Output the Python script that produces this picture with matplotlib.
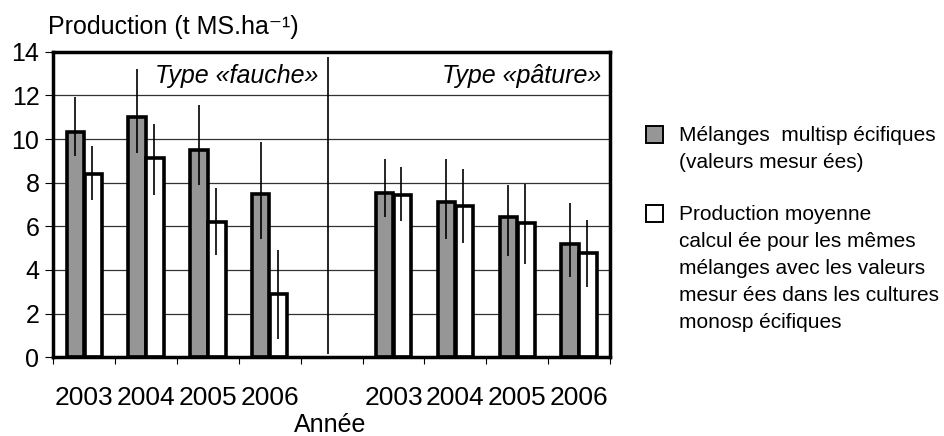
import numpy as np
import matplotlib
matplotlib.use("Agg")
import matplotlib.pyplot as plt
from matplotlib.patches import Rectangle

plt.rcParams['font.family'] = ['Liberation Sans', 'DejaVu Sans']

# values (t MS/ha), error bars given as low / high ends
years = ['2003', '2004', '2005', '2006']

fauche_mix = [10.33, 11.02, 9.49, 7.46]
fauche_mix_hi = [11.92, 13.19, 11.54, 9.86]
fauche_mix_lo = [9.22, 9.36, 7.88, 5.44]
fauche_calc = [8.42, 9.11, 6.18, 2.90]
fauche_calc_hi = [9.67, 10.71, 7.76, 4.93]
fauche_calc_lo = [7.19, 7.42, 4.69, 0.86]

pature_mix = [7.51, 7.13, 6.44, 5.18]
pature_mix_hi = [9.08, 9.08, 7.89, 7.09]
pature_mix_lo = [6.43, 5.41, 4.64, 3.69]
pature_calc = [7.43, 6.94, 6.17, 4.80]
pature_calc_hi = [8.70, 8.61, 7.96, 6.31]
pature_calc_lo = [6.25, 5.24, 4.27, 3.20]

legend_mix = ['Mélanges  multisp écifiques', '(valeurs mesur ées)']
legend_calc = ['Production moyenne', 'calcul ée pour les mêmes',
               'mélanges avec les valeurs', 'mesur ées dans les cultures',
               'monosp écifiques']

W, H = 944, 436
fig = plt.figure(figsize=(W / 100, H / 100), dpi=100)
ax = fig.add_axes([53.3 / W, 1 - 357.3 / H, (610 - 53.3) / W, (357.3 - 51.7) / H])

# category slots: 4 years "fauche", one empty slot, 4 years "pâture"
x = np.array([0, 1, 2, 3, 5, 6, 7, 8])
mix = np.array(fauche_mix + pature_mix)
mix_hi = np.array(fauche_mix_hi + pature_mix_hi)
mix_lo = np.array(fauche_mix_lo + pature_mix_lo)
calc = np.array(fauche_calc + pature_calc)
calc_hi = np.array(fauche_calc_hi + pature_calc_hi)
calc_lo = np.array(fauche_calc_lo + pature_calc_lo)

w = 0.28
off = 0.145
ax.bar(x - off, mix, w, color='#969696', edgecolor='black', linewidth=2.6, zorder=2)
ax.bar(x + off, calc, w, color='white', edgecolor='black', linewidth=2.6, zorder=2)
ax.errorbar(x - off, mix, yerr=[mix - mix_lo, mix_hi - mix], fmt='none',
            ecolor='black', elinewidth=1.2, capsize=0, zorder=3)
ax.errorbar(x + off - 0.02, calc, yerr=[calc - calc_lo, calc_hi - calc], fmt='none',
            ecolor='black', elinewidth=1.2, capsize=0, zorder=3)

# separator between the two types
ax.vlines(3.94, 0.15, 13.76, color='black', linewidth=1.2, zorder=3)

ax.text(3.78, 12.57, 'Type «fauche»', ha='right', va='baseline',
        fontsize=18, style='italic')
ax.text(8.36, 12.57, 'Type «pâture»', ha='right', va='baseline',
        fontsize=18, style='italic')

ax.set_xlim(-0.5, 8.5)
ax.set_ylim(0, 14)
ax.set_yticks(np.arange(0, 15, 2))
ax.tick_params(axis='y', labelsize=18, length=6, width=0.8, pad=4)
ax.yaxis.grid(True, color='#333333', linewidth=0.9)
ax.set_axisbelow(True)

ax.set_xticks(np.arange(-0.5, 9, 1))
ax.set_xticklabels([])
ax.set_xticks(x, minor=True)
ax.set_xticklabels(years + years, minor=True)
ax.tick_params(axis='x', which='major', length=5, width=0.8)
ax.tick_params(axis='x', which='minor', length=0, pad=21, labelsize=19)

for s in ax.spines.values():
    s.set_linewidth(2.5)

fig.text(48 / W, 1 - 34 / H, 'Production (t MS.ha⁻¹)', fontsize=18,
         ha='left', va='baseline')
fig.text(330 / W, 1 - 425 / H, 'Année', fontsize=18, ha='center', va='center')

# hand-drawn legend, squares aligned with the first text line
def legend_entry(fill, top_px, lines):
    fig.add_artist(Rectangle((646 / W, 1 - (top_px + 17) / H), 17 / W, 17 / H,
                             transform=fig.transFigure, facecolor=fill,
                             edgecolor='black', linewidth=1.4))
    for i, line in enumerate(lines):
        base = top_px + 15 + i * 27
        fig.text(679 / W, 1 - base / H, line, fontsize=15,
                 ha='left', va='baseline')

legend_entry('#969696', 126, legend_mix)
legend_entry('white', 205, legend_calc)

fig.savefig('out.png', dpi=100)
